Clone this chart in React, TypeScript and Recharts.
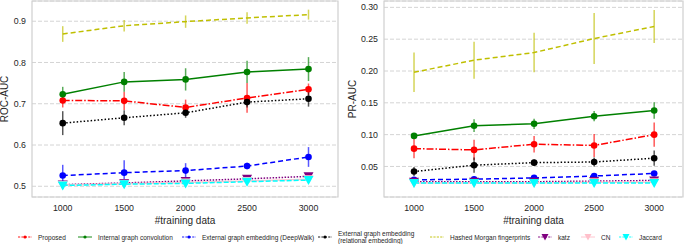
import React from "react";
import {
  LineChart,
  Line,
  XAxis,
  YAxis,
  CartesianGrid,
  ErrorBar,
  ReferenceArea,
} from "recharts";

// x values (number of training data)
const trainingSizes = [1000, 1500, 2000, 2500, 3000];
const xTicks = [1000, 1500, 2000, 2500, 3000];

// ROC-AUC panel
const rocProposed = [0.708, 0.707, 0.691, 0.714, 0.735];
const rocProposedErr = [0.017, 0.022, 0.019, 0.036, 0.014];
const rocInternal = [0.723, 0.753, 0.759, 0.777, 0.784];
const rocInternalErr = [0.018, 0.024, 0.027, 0.027, 0.029];
const rocDeepWalk = [0.526, 0.533, 0.538, 0.549, 0.571];
const rocDeepWalkErr = [0.026, 0.03, 0.018, 0.008, 0.024];
const rocRelational = [0.653, 0.666, 0.678, 0.704, 0.712];
const rocRelationalErr = [0.029, 0.018, 0.012, 0.013, 0.019];
const rocMorgan = [0.869, 0.889, 0.899, 0.908, 0.916];
const rocMorganErr = [0.019, 0.014, 0.015, 0.014, 0.012];
const rocKatz = [0.504, 0.508, 0.513, 0.518, 0.524];
const rocCN = [0.503, 0.506, 0.509, 0.513, 0.517];
const rocJaccard = [0.502, 0.505, 0.507, 0.511, 0.515];
const rocTicks = [0.5, 0.6, 0.7, 0.8, 0.9];

// PR-AUC panel
const prProposed = [0.078, 0.076, 0.085, 0.083, 0.1];
const prProposedErr = [0.015, 0.016, 0.013, 0.018, 0.019];
const prInternal = [0.098, 0.114, 0.117, 0.129, 0.138];
const prInternalErr = [0.003, 0.01, 0.008, 0.008, 0.013];
const prDeepWalk = [0.029, 0.03, 0.032, 0.035, 0.039];
const prDeepWalkErr = [0.002, 0.002, 0.003, 0.003, 0.003];
const prRelational = [0.042, 0.052, 0.056, 0.057, 0.063];
const prRelationalErr = [0.007, 0.012, 0.005, 0.007, 0.012];
const prMorgan = [0.198, 0.217, 0.229, 0.251, 0.27];
const prMorganErr = [0.031, 0.029, 0.031, 0.04, 0.026];
const prKatz = [0.026, 0.026, 0.026, 0.027, 0.028];
const prCN = [0.024, 0.024, 0.024, 0.025, 0.025];
const prJaccard = [0.024, 0.024, 0.024, 0.024, 0.024];
const prTicks = [0.05, 0.1, 0.15, 0.2, 0.25, 0.3];

type Marker = "circle" | "tri" | "none";

interface SeriesDef {
  key: string;
  name: string;
  color: string;
  dash?: string;
  marker: Marker;
  hasErr: boolean;
}

// plotting order = legend order
const SERIES: SeriesDef[] = [
  { key: "proposed", name: "Proposed", color: "#ff0000", dash: "7 2 1.5 2", marker: "circle", hasErr: true },
  { key: "internal", name: "Internal graph convolution", color: "#008000", marker: "circle", hasErr: true },
  { key: "deepwalk", name: "External graph embedding (DeepWalk)", color: "#0000ff", dash: "5 3", marker: "circle", hasErr: true },
  { key: "relational", name: "External graph embedding\n(relational embedding)", color: "#000000", dash: "1.5 2", marker: "circle", hasErr: true },
  { key: "morgan", name: "Hashed Morgan fingerprints", color: "#bfbf00", dash: "5 3", marker: "none", hasErr: true },
  { key: "katz", name: "katz", color: "#800080", dash: "1.5 1.5", marker: "tri", hasErr: false },
  { key: "cn", name: "CN", color: "#ffc0cb", marker: "tri", hasErr: false },
  { key: "jaccard", name: "Jaccard", color: "#00ffff", dash: "5 2", marker: "tri", hasErr: false },
];

// legend symbol left edges (px)
const LEGEND_X = [18, 78, 182, 318, 430, 538, 581, 619];

const FONT = '"Liberation Sans", Arial, sans-serif';
const TEXT = "#262626";

type Row = { [k: string]: number };

function buildRows(values: number[][], errors: (number[] | null)[]): Row[] {
  return trainingSizes.map((x, i) => {
    const row: Row = { x };
    SERIES.forEach((s, j) => {
      row[s.key] = values[j][i];
      const e = errors[j];
      if (e) row[s.key + "Err"] = e[i];
    });
    return row;
  });
}

const rocRows = buildRows(
  [rocProposed, rocInternal, rocDeepWalk, rocRelational, rocMorgan, rocKatz, rocCN, rocJaccard],
  [rocProposedErr, rocInternalErr, rocDeepWalkErr, rocRelationalErr, rocMorganErr, null, null, null]
);
const prRows = buildRows(
  [prProposed, prInternal, prDeepWalk, prRelational, prMorgan, prKatz, prCN, prJaccard],
  [prProposedErr, prInternalErr, prDeepWalkErr, prRelationalErr, prMorganErr, null, null, null]
);

function makeDot(s: SeriesDef) {
  if (s.marker === "none") return false;
  return (props: any) => {
    const { cx, cy, index } = props;
    if (cx == null || cy == null) return <g key={index} />;
    if (s.marker === "circle") {
      return <circle key={index} cx={cx} cy={cy} r={3.3} fill={s.color} stroke="none" />;
    }
    return (
      <polygon
        key={index}
        points={`${cx - 5},${cy - 4} ${cx + 5},${cy - 4} ${cx},${cy + 5}`}
        fill={s.color}
        stroke="none"
      />
    );
  };
}

interface PanelProps {
  rows: Row[];
  width: number;
  yWidth: number;
  domain: [number, number];
  ticks: number[];
  digits: number;
  label: string;
  labelOffset: number;
}

function Panel({ rows, width, yWidth, domain, ticks, digits, label, labelOffset }: PanelProps) {
  return (
    <LineChart
      width={width}
      height={226}
      data={rows}
      margin={{ top: 1, right: 2, left: 0, bottom: 0 }}
      style={{ fontFamily: FONT }}
    >
      <CartesianGrid vertical={false} stroke="#d4d4d4" strokeDasharray="4 2" />
      <ReferenceArea
        x1={750}
        x2={3240}
        y1={domain[0]}
        y2={domain[1]}
        fill="none"
        stroke="#cfcfcf"
        strokeWidth={1.2}
        ifOverflow="visible"
      />
      <XAxis
        dataKey="x"
        type="number"
        domain={[750, 3240]}
        ticks={xTicks}
        allowDataOverflow
        height={29}
        tickLine={false}
        axisLine={false}
        tickSize={0}
        tickMargin={8}
        tick={{ fontSize: 8.8, fill: TEXT }}
        label={{ value: "#training data", position: "insideBottom", offset: 2, style: { fontSize: 10, fill: TEXT } }}
      />
      <YAxis
        type="number"
        domain={domain}
        ticks={ticks}
        allowDataOverflow
        width={yWidth}
        tickLine={false}
        axisLine={false}
        tickSize={0}
        tickMargin={6}
        tickFormatter={(v: number) => v.toFixed(digits)}
        tick={{ fontSize: 8.8, fill: TEXT }}
        label={{
          value: label,
          angle: -90,
          position: "insideLeft",
          offset: labelOffset,
          style: { fontSize: 10, fill: TEXT, textAnchor: "middle" },
        }}
      />
      {SERIES.map((s) => (
        <Line
          key={s.key}
          dataKey={s.key}
          stroke={s.color}
          strokeWidth={1.5}
          strokeDasharray={s.dash}
          dot={makeDot(s)}
          activeDot={false}
          isAnimationActive={false}
        >
          {s.hasErr && (
            <ErrorBar
              dataKey={s.key + "Err"}
              width={0}
              stroke={s.color}
              strokeWidth={1.5}
              opacity={0.65}
              direction="y"
            />
          )}
        </Line>
      ))}
    </LineChart>
  );
}

function LegendSymbol({ s }: { s: SeriesDef }) {
  return (
    <svg width={14} height={8} style={{ display: "block" }}>
      <line
        x1={0}
        y1={4}
        x2={14}
        y2={4}
        stroke={s.color}
        strokeWidth={0.9}
        strokeDasharray={s.dash ? "2.2 1.2" : undefined}
      />
      {s.marker === "circle" && <circle cx={7} cy={4} r={1.6} fill={s.color} />}
      {s.marker === "tri" && <polygon points="3.5,1 10.5,1 7,7.5" fill={s.color} />}
    </svg>
  );
}

export default function App() {
  return (
    <div style={{ position: "relative", width: 685, height: 244, background: "#fff", overflow: "hidden" }}>
      <style>{"body{margin:0}"}</style>
      <div style={{ position: "absolute", left: 0, top: 0 }}>
        <Panel
          rows={rocRows}
          width={340}
          yWidth={32}
          domain={[0.474, 0.949]}
          ticks={rocTicks}
          digits={1}
          label="ROC-AUC"
          labelOffset={4.5}
        />
      </div>
      <div style={{ position: "absolute", left: 340, top: 0 }}>
        <Panel
          rows={prRows}
          width={345}
          yWidth={44}
          domain={[0.002, 0.31]}
          ticks={prTicks}
          digits={2}
          label="PR-AUC"
          labelOffset={12.5}
        />
      </div>
      {SERIES.map((s, i) => (
        <div
          key={s.key}
          style={{
            position: "absolute",
            left: LEGEND_X[i],
            top: 237,
            transform: "translateY(-50%)",
            display: "flex",
            alignItems: "center",
            gap: 6,
            fontFamily: FONT,
            fontSize: 6.5,
            lineHeight: "7px",
            color: TEXT,
            whiteSpace: "pre",
          }}
        >
          <LegendSymbol s={s} />
          <span>{s.name}</span>
        </div>
      ))}
    </div>
  );
}
